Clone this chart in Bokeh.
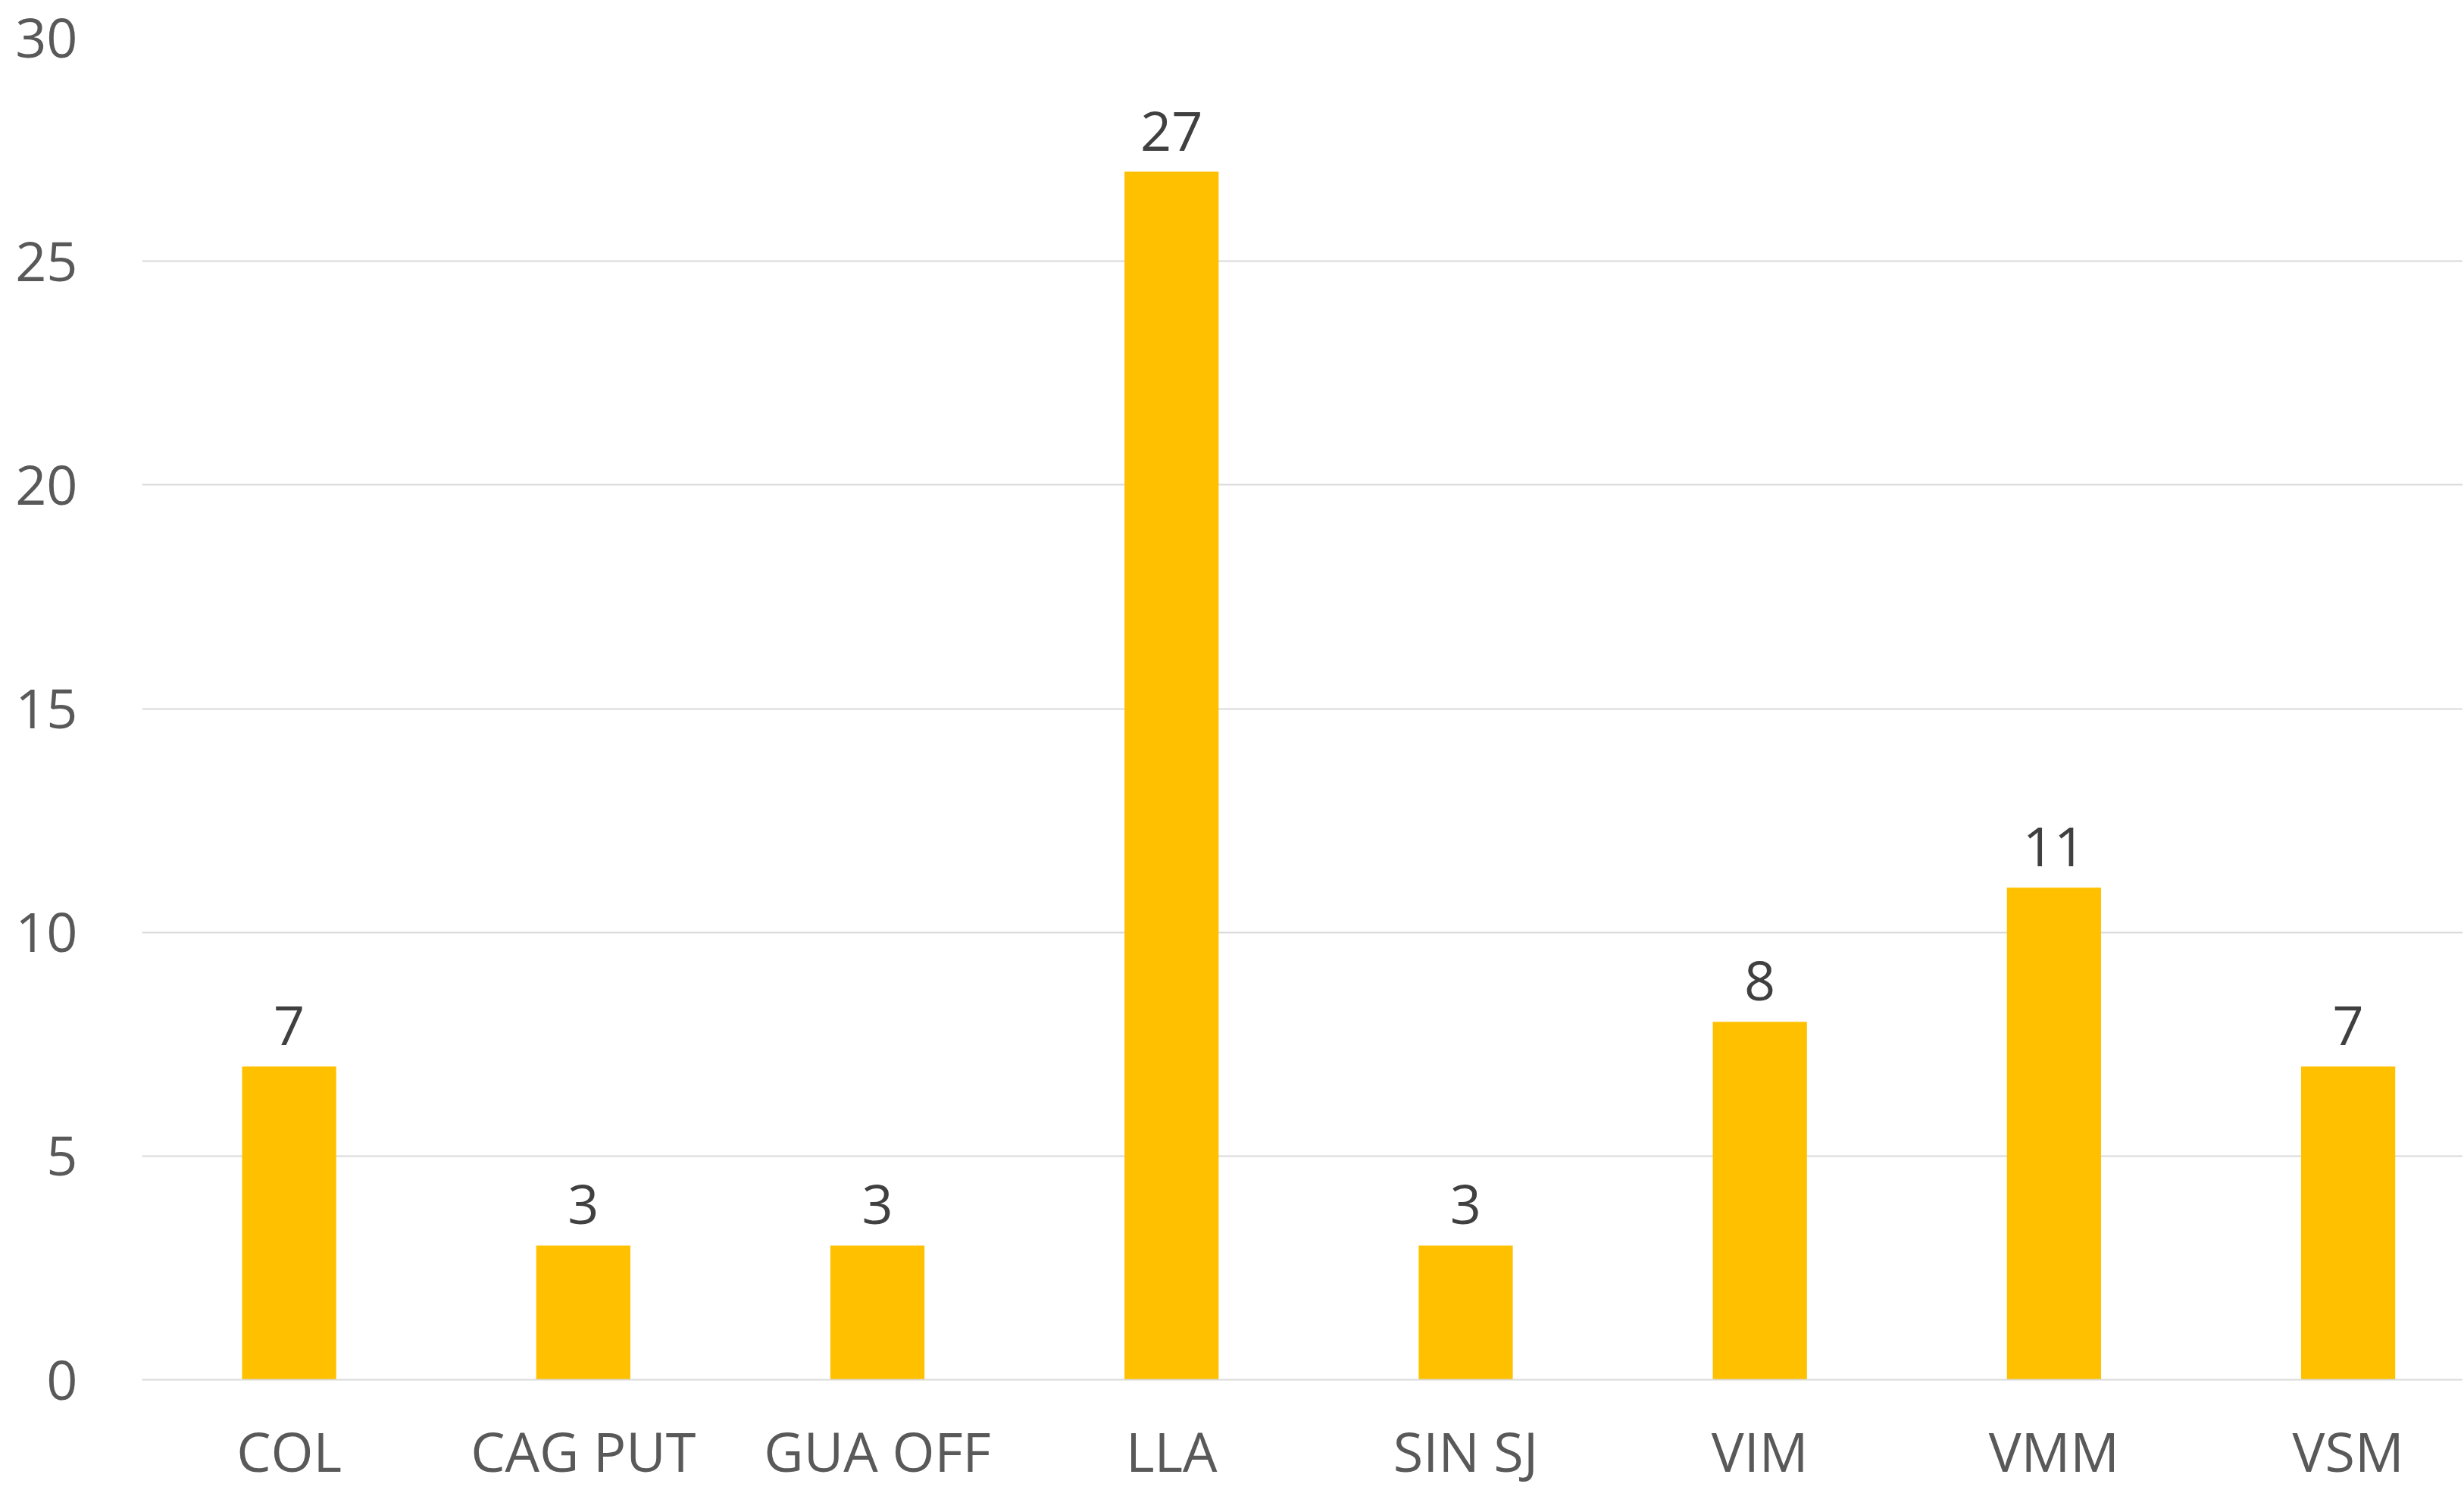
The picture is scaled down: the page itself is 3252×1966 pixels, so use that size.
from bokeh.plotting import figure
from bokeh.models import Range1d, FixedTicker, ColumnDataSource
from bokeh.core.properties import value
from bokeh.embed import file_html
from bokeh.resources import INLINE

categories = ["COL", "CAG PUT", "GUA OFF", "LLA", "SIN SJ", "VIM", "VMM", "VSM"]
counts = [7, 3, 3, 27, 3, 8, 11, 7]
y_ticks = [0, 5, 10, 15, 20, 25, 30]

FONT = "Open Sans"
BAR = "#FFC000"
GRID = "#D9D9D9"

xs = [i + 0.5 for i in range(len(categories))]
src = ColumnDataSource(dict(x=xs, top=counts, label=[str(c) for c in counts]))

p = figure(width=3250, height=1965, output_backend="svg", toolbar_location=None,
           x_range=Range1d(0, 7.89), y_range=Range1d(0, 30))
p.min_border_left = 187
p.min_border_right = 0
p.min_border_top = 49
p.min_border_bottom = 144
p.outline_line_color = None
p.background_fill_color = "white"
p.border_fill_color = "white"

p.vbar(x="x", top="top", bottom=0, width=0.32, source=src, fill_color=BAR, line_color=None)
p.text(x="x", y="top", text="label", source=src, text_align="center", text_baseline="alphabetic",
       y_offset=-54, text_font=value(FONT), text_font_size="72px", text_color="#404040")

p.xaxis.ticker = FixedTicker(ticks=xs)
p.xaxis.major_label_overrides = {x: c for x, c in zip(xs, categories)}
p.xaxis.major_tick_line_color = None
p.xaxis.minor_tick_line_color = None
p.xaxis.axis_line_color = GRID
p.xaxis.axis_line_width = 2
p.xaxis.major_label_standoff = 38
p.xaxis.major_label_text_font = FONT
p.xaxis.major_label_text_font_size = "72px"
p.xaxis.major_label_text_color = "#595959"

p.yaxis.ticker = FixedTicker(ticks=y_ticks)
p.yaxis.major_tick_line_color = None
p.yaxis.minor_tick_line_color = None
p.yaxis.axis_line_color = None
p.yaxis.major_label_standoff = 79
p.yaxis.major_label_text_font = FONT
p.yaxis.major_label_text_font_size = "72px"
p.yaxis.major_label_text_color = "#595959"

p.xgrid.grid_line_color = None
p.ygrid.grid_line_color = GRID
p.ygrid.grid_line_width = 2

open("out.html", "w").write(file_html(p, INLINE))
